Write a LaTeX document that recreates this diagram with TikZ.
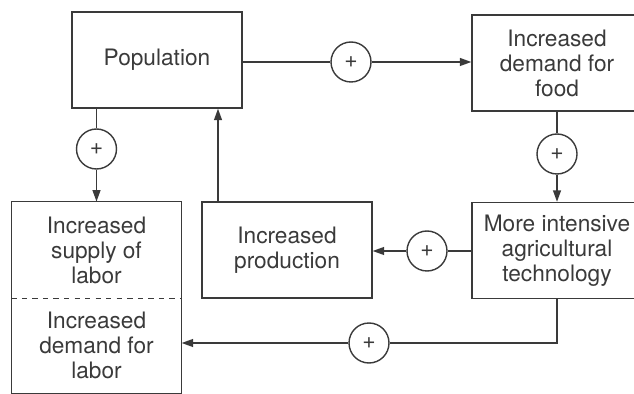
\documentclass[tikz,border=0pt]{standalone}
\usepackage{fontspec}
\setmainfont{TeX Gyre Heros}
\usetikzlibrary{arrows.meta}

\definecolor{inkgray}{HTML}{3A3A3A}

\tikzset{
	box/.style={draw=inkgray,line width=0.8pt,minimum width=3.4cm,minimum height=1.92cm,
		align=center,inner sep=0pt,text=inkgray,font=\fontsize{12.9}{14.2}\selectfont},
	halfbox/.style={box,draw=none,minimum height=1.91cm},
	sign/.style={circle,draw=inkgray,line width=0.8pt,minimum size=0.8cm,inner sep=0pt,
		text=inkgray,font=\fontsize{13}{14}\selectfont},
	link/.style={draw=inkgray,line width=0.8pt},
	arrowed/.style={link,-{Triangle[length=6.5pt,width=4.5pt]}}
}

\begin{document}
\begin{tikzpicture}[x=0.02cm,y=-0.02cm]
	\useasboundingbox (0,0) rectangle (634,394);
	\clip (0,0) rectangle (634,394); % boxes on the right run past the edge

		% the five boxes
		\node[box] (population) at (157,60) {Population};
		\node[box] (fooddemand) at (557,63) {Increased\\demand for\\food};
		\node[box] (intensive) at (557,250.5) {More intensive\\agricultural\\technology};
		\node[box] (production) at (287,250) {Increased\\production};
		\node[halfbox,minimum width=3.38cm] (laborsupply) at (96.5,250) {Increased\\supply of\\labor};
		\node[halfbox,minimum width=3.38cm] (labordemand) at (96.5,345.5) {Increased\\demand for\\labor};
		\draw[link] (laborsupply.north west) rectangle (labordemand.south east);
		\draw[link,dashed,line width=0.6pt] (laborsupply.south west) -- (laborsupply.south east);

		% the signs
		\node[sign] (plusA) at (351,62) {+};
		\node[sign] (plusB) at (557,154) {+};
		\node[sign] (plusC) at (427,251) {+};
		\node[sign] (plusD) at (96.5,149) {+};
		\node[sign] (plusE) at (369,343) {+};
		\coordinate (feedback) at (218,202);

		% the links
		\draw[link] (population.east |- plusA) -- (plusA);
		\draw[arrowed] (plusA) -- (plusA -| fooddemand.west);
		\draw[link] (fooddemand.south) -- (plusB);
		\draw[arrowed] (plusB) -- (intensive.north);
		\draw[link] (intensive.west |- plusC) -- (plusC);
		\draw[arrowed] (plusC) -- (plusC -| production.east);
		\draw[arrowed] (feedback) -- (feedback |- population.south);
		\draw[link] (plusD |- population.south) -- (plusD);
		\draw[arrowed] (plusD) -- (laborsupply.north);
		\draw[link] (intensive.south) |- (plusE);
		\draw[arrowed] (plusE) -- (plusE -| labordemand.east);
\end{tikzpicture}
\end{document}
